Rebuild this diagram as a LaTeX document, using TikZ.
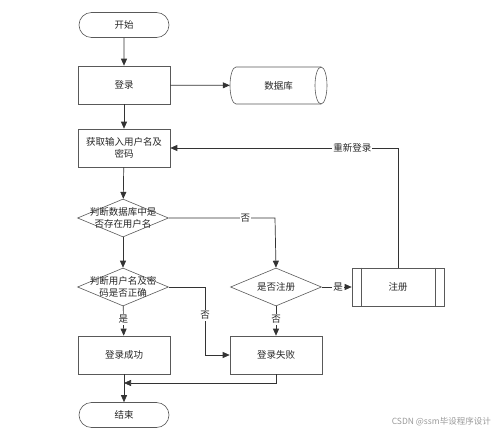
\documentclass[tikz,border=0pt]{standalone}
\usepackage{fontspec}
\setmainfont{Noto Sans CJK SC}
\usetikzlibrary{shapes.geometric,shapes.misc,arrows.meta}
\begin{document}
\begin{tikzpicture}[x=1pt,y=-1pt,
  base/.style={draw=black!65, line width=0.6pt, text=black!85, font=\fontsize{9.5}{11.5}\selectfont, align=center, inner sep=1pt},
  term/.style={base, rounded rectangle, minimum width=92pt, minimum height=25pt},
  proc/.style={base, rectangle, minimum width=92pt, minimum height=38pt},
  dec/.style={base, diamond, aspect=2.42, minimum width=91pt, minimum height=38pt, inner sep=0pt},
  txt/.style={text=black!85, font=\fontsize{9.5}{11.5}\selectfont, align=center, inner sep=0pt},
  shp/.style={draw=black!65, line width=0.6pt},
  conn/.style={draw=black!80, line width=0.7pt},
  arr/.style={conn, -{Triangle[length=7pt,width=6pt]}},
  lab/.style={fill=white, inner sep=1pt, text=black!85, font=\fontsize{9.5}{11}\selectfont}
]
\useasboundingbox (0,0) rectangle (499,431);
\node[term] (start) at (124,25) {开始};
\node[proc] (login) at (124,85) {登录};
% database (horizontal cylinder)
\node[txt, minimum width=97pt, minimum height=37pt] (dbase) at (278.5,85.5) {数据库};
\draw[shp] (321,67) -- (236,67) arc[start angle=90, end angle=270, x radius=6pt, y radius=18.5pt] -- (321,104);
\draw[shp] (321,85.5) ellipse[x radius=6pt, y radius=18.5pt];
\node[proc] (input) at (124,148) {获取输入用户名及\\密码};
\node[dec] (d1) at (123,218) {};
\node[txt] (t1) at (d1) {判断数据库中是\\否存在用户名};
\node[dec] (d2) at (123,287) {};
\node[txt] (t2) at (d2) {判断用户名及密\\码是否正确};
\node[dec] (d3) at (276,287) {};
\node[txt] (t3) at (d3) {是否注册};
\node[proc] (reg) at (398,287) {注册};
\draw[shp] ([xshift=10pt]reg.north west) -- ([xshift=10pt]reg.south west);
\draw[shp] ([xshift=-9pt]reg.north east) -- ([xshift=-9pt]reg.south east);
\node[proc] (ok) at (124,355) {登录成功};
\node[proc] (fail) at (276,355) {登录失败};
\node[term] (stop) at (124,415) {结束};
\node[text=black!40, font=\fontsize{8.5}{10}\selectfont, anchor=east, inner sep=0pt] (wm) at (491,422) {CSDN @ssm毕设程序设计};

\coordinate (c1) at (275,218);
\coordinate (c2) at (205,287);
\coordinate (c3) at (205,355);
\coordinate (c4) at (398,148);
\coordinate (c5) at (276,383);
\coordinate (c6) at (124,383);

\draw[arr] (start) -- (login);
\draw[arr] (login) -- (dbase);
\draw[arr] (login) -- (input);
\draw[arr] (input) -- (d1);
\draw[arr] (d1) -- (d2);
\draw[arr] (d1.east) -- node[lab, pos=0.72] {否} (c1) -- (d3.north);
\draw[arr] (d3) -- node[lab, pos=0.55] {是} (reg);
\draw[arr] (reg.north) -- (c4) -- node[lab, pos=0.2] {重新登录} (input.east);
\draw[arr] (d2) -- node[lab, pos=0.45] {是} (ok);
\draw[arr] (d2.east) -- (c2) -- node[lab, pos=0.42] {否} (c3) -- (fail.west);
\draw[arr] (d3) -- node[lab, pos=0.45] {否} (fail);
\draw[arr] (fail.south) -- (c5) -- (c6);
\draw[arr] (ok) -- (stop);
\end{tikzpicture}
\end{document}
